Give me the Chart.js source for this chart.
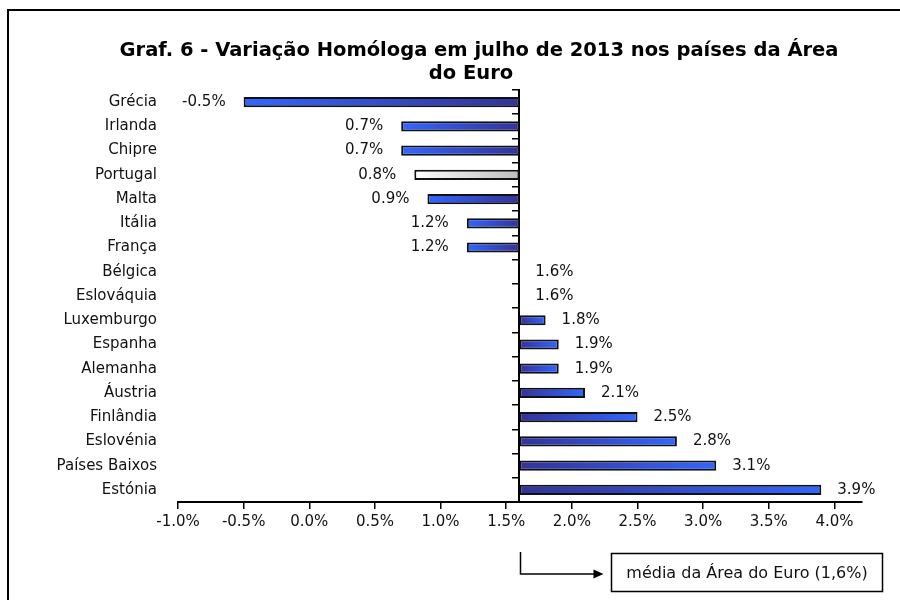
<!DOCTYPE html>
<html>
<head>
<meta charset="utf-8">
<script src="https://cdn.jsdelivr.net/npm/chart.js@4.4.0/dist/chart.umd.min.js"></script>
<style>
    html, body { margin: 0; padding: 0; background: #fff; overflow: hidden; }
    #wrap { position: relative; width: 900px; height: 600px; }
    #frame { position: absolute; left: 7px; top: 9px; width: 1000px; height: 700px; border: 2px solid #000; }
    canvas { position: absolute; left: 0; top: 0; }
</style>
</head>
<body>
<div id="wrap">
    <div id="frame"></div>
    <canvas id="chart" width="900" height="600"></canvas>
</div>
<script>
const countries = ['Grécia', 'Irlanda', 'Chipre', 'Portugal', 'Malta', 'Itália', 'França', 'Bélgica',
    'Eslováquia', 'Luxemburgo', 'Espanha', 'Alemanha', 'Áustria', 'Finlândia', 'Eslovénia',
    'Países Baixos', 'Estónia'];
const variation = [-0.5, 0.7, 0.7, 0.8, 0.9, 1.2, 1.2, 1.6, 1.6, 1.8, 1.9, 1.9, 2.1, 2.5, 2.8, 3.1, 3.9];
const euroAverage = 1.6;
const xTicks = [-1.0, -0.5, 0.0, 0.5, 1.0, 1.5, 2.0, 2.5, 3.0, 3.5, 4.0];
const titleLines = ['Graf. 6 - Variação Homóloga em julho de 2013 nos países da Área', 'do Euro'];
const averageNote = 'média da Área do Euro (1,6%)';

const FONT = "'DejaVu Sans', Verdana, sans-serif";

function barFill(context) {
    const chart = context.chart;
    if (!chart.chartArea || context.dataIndex === undefined) return '#333399';
    const xs = chart.scales.x;
    const v = variation[context.dataIndex];
    const x0 = xs.getPixelForValue(euroAverage);
    const x1 = xs.getPixelForValue(v);
    const portugal = countries[context.dataIndex] === 'Portugal';
    const dark = portugal ? '#bdbdbd' : '#333399';
    const bright = portugal ? '#ffffff' : '#3366ff';
    if (Math.abs(x1 - x0) < 1) return dark;
    const g = chart.ctx.createLinearGradient(x0, 0, x1, 0);
    g.addColorStop(0, dark);
    g.addColorStop(1, bright);
    return g;
}

// two-line title, centred a bit right of the canvas middle like the original
const chartTitle = {
    id: 'chartTitle',
    afterDraw(chart) {
        const ctx = chart.ctx;
        ctx.save();
        ctx.font = 'bold 19.5px ' + FONT;
        ctx.fillStyle = '#000';
        ctx.textAlign = 'center';
        ctx.textBaseline = 'middle';
        ctx.fillText(titleLines[0], 479, 51);
        ctx.fillText(titleLines[1], 471, 74);
        ctx.restore();
    }
};

// value labels next to the bar tips
const valueLabels = {
    id: 'valueLabels',
    afterDatasetsDraw(chart) {
        const ctx = chart.ctx;
        const meta = chart.getDatasetMeta(0);
        const xs = chart.scales.x;
        const base = xs.getPixelForValue(euroAverage);
        ctx.save();
        ctx.font = '15px ' + FONT;
        ctx.fillStyle = '#111';
        ctx.textBaseline = 'middle';
        meta.data.forEach((bar, i) => {
            const v = variation[i];
            const tip = xs.getPixelForValue(v);
            const txt = v.toFixed(1) + '%';
            if (v < euroAverage) {
                ctx.textAlign = 'right';
                ctx.fillText(txt, tip - 18, bar.y);
            } else {
                ctx.textAlign = 'left';
                ctx.fillText(txt, Math.max(tip, base) + 16, bar.y);
            }
        });
        ctx.restore();
    }
};

// arrow + box pointing at the euro area average
const averageNoteBox = {
    id: 'averageNoteBox',
    afterDraw(chart) {
        const ctx = chart.ctx;
        const x = Math.round(chart.scales.x.getPixelForValue(euroAverage)) + 1.5;
        const bottom = chart.chartArea.bottom;
        const yTop = bottom + 50, yArrow = bottom + 72;
        const boxL = 611.5, boxT = bottom + 51.5, boxW = 271, boxH = 38;
        ctx.save();
        ctx.strokeStyle = '#000';
        ctx.fillStyle = '#000';
        ctx.lineWidth = 1.5;
        ctx.beginPath();
        ctx.moveTo(x, yTop);
        ctx.lineTo(x, yArrow);
        ctx.lineTo(boxL - 16, yArrow);
        ctx.stroke();
        ctx.beginPath();
        ctx.moveTo(boxL - 8, yArrow);
        ctx.lineTo(boxL - 18, yArrow - 4.5);
        ctx.lineTo(boxL - 18, yArrow + 4.5);
        ctx.closePath();
        ctx.fill();
        ctx.strokeRect(boxL, boxT, boxW, boxH);
        ctx.font = '16px ' + FONT;
        ctx.fillStyle = '#111';
        ctx.textAlign = 'center';
        ctx.textBaseline = 'middle';
        ctx.fillText(averageNote, boxL + boxW / 2, boxT + boxH / 2 + 1);
        ctx.restore();
    }
};

const chart = new Chart(document.getElementById('chart').getContext('2d'), {
    type: 'bar',
    data: {
        labels: countries,
        datasets: [{
            data: variation.map(v => [euroAverage, v]),
            backgroundColor: barFill,
            borderColor: '#111',
            borderWidth: 2,
            borderSkipped: false,
            categoryPercentage: 1,
            barPercentage: 0.42
        }]
    },
    options: {
        indexAxis: 'y',
        responsive: false,
        animation: false,
        events: [],
        layout: { padding: { left: 0, right: 38, top: 90, bottom: 0 } },
        plugins: {
            legend: { display: false },
            tooltip: { enabled: false },
            title: { display: false }
        },
        scales: {
            x: {
                min: -1.0,
                max: 4.21,
                afterBuildTicks: scale => { scale.ticks = xTicks.map(v => ({ value: v })); },
                afterFit: scale => { scale.height = 98; },
                border: { display: true, color: '#000', width: 2 },
                grid: { drawOnChartArea: false, drawTicks: true, tickLength: 7, color: '#000', lineWidth: 1.5 },
                ticks: {
                    color: '#111',
                    padding: 4,
                    maxRotation: 0,
                    font: { family: FONT, size: 15 },
                    callback: v => v.toFixed(1) + '%'
                }
            },
            y: {
                afterFit: scale => { scale.width = 178; },
                border: { display: false },
                grid: { display: false },
                ticks: { color: '#111', padding: 13, font: { family: FONT, size: 15 } }
            },
            y2: {
                type: 'category',
                axis: 'y',
                position: { x: euroAverage },
                border: { display: true, color: '#000', width: 2 },
                grid: { offset: true, drawOnChartArea: false, drawTicks: true, tickLength: 6, color: '#000', lineWidth: 1.5 },
                ticks: { display: false }
            }
        }
    },
    plugins: [chartTitle, valueLabels, averageNoteBox]
});
</script>
</body>
</html>
